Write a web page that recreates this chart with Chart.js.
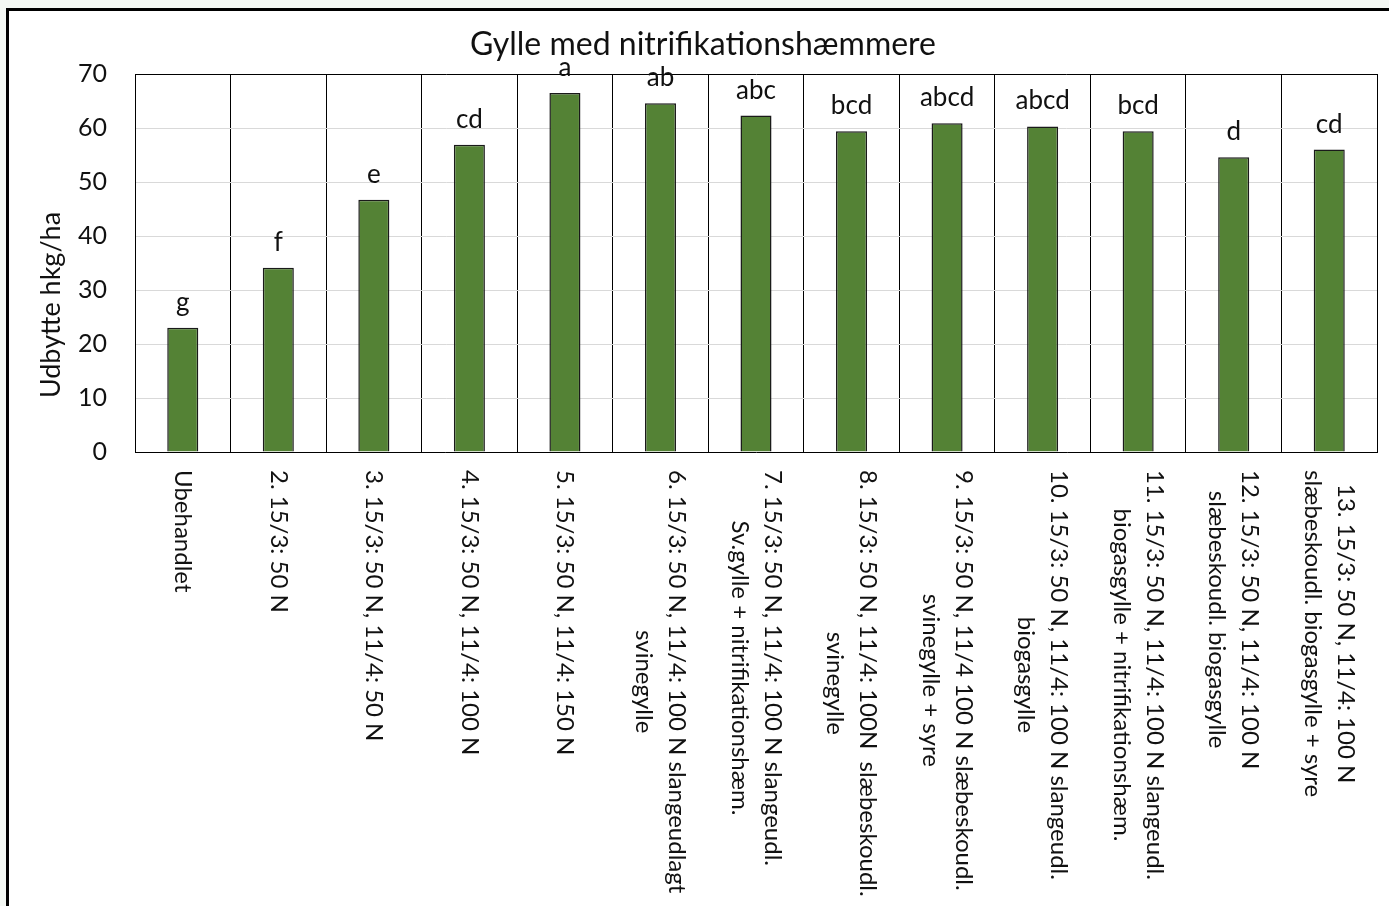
<!DOCTYPE html>
<html>
<head>
<meta charset="utf-8">
<script src="https://cdn.jsdelivr.net/npm/chart.js@4.4.1/dist/chart.umd.min.js"></script>
<style>
  html, body { margin: 0; padding: 0; background: #f4f8f4; }
  #frame {
    position: absolute; left: 6px; top: 8px;
    width: 1380px; height: 895px;
    border-top: 3px solid #000; border-left: 3px solid #000;
    background: #fff;
  }
  canvas { display: block; }
</style>
</head>
<body>
<div id="frame"><canvas id="c" width="1380" height="895"></canvas></div>
<script>
const chartTitle = "Gylle med nitrifikationshæmmere";
const yTitle = "Udbytte hkg/ha";

const categories = [
  ["Ubehandlet"],
  ["2. 15/3: 50 N"],
  ["3. 15/3: 50 N, 11/4: 50 N"],
  ["4. 15/3: 50 N, 11/4: 100 N"],
  ["5. 15/3: 50 N, 11/4: 150 N"],
  ["6. 15/3: 50 N, 11/4: 100 N slangeudlagt", "svinegylle"],
  ["7. 15/3: 50 N, 11/4: 100 N slangeudl.", "Sv.gylle + nitrifikationshæm."],
  ["8. 15/3: 50 N, 11/4: 100N  slæbeskoudl.", "svinegylle"],
  ["9. 15/3: 50 N, 11/4 100 N slæbeskoudl.", "svinegylle + syre"],
  ["10. 15/3: 50 N, 11/4: 100 N slangeudl.", "biogasgylle"],
  ["11. 15/3: 50 N, 11/4: 100 N slangeudl.", "biogasgylle + nitrifikationshæm."],
  ["12. 15/3: 50 N, 11/4: 100 N", "slæbeskoudl. biogasgylle"],
  ["13. 15/3: 50 N, 11/4: 100 N", "slæbeskoudl. biogasgylle + syre"]
];
const yields = [23.0, 34.1, 46.7, 56.9, 66.5, 64.6, 62.3, 59.4, 60.9, 60.3, 59.4, 54.6, 56.0];
const letters = ["g", "f", "e", "cd", "a", "ab", "abc", "bcd", "abcd", "abcd", "bcd", "d", "cd"];
const yMin = 0, yMax = 70, yStep = 10;

const textColor = "#111";

// letters over bars, rotated category labels and the y title
const annotate = {
  id: "annotate",
  afterDatasetsDraw(chart) {
    const ctx = chart.ctx;
    const meta = chart.getDatasetMeta(0);
    ctx.save();
    ctx.fillStyle = textColor;
    ctx.font = "26px Lato";
    ctx.textAlign = "center";
    ctx.textBaseline = "alphabetic";
    meta.data.forEach((bar, i) => ctx.fillText(letters[i], bar.x, bar.y - 17));
    ctx.restore();
  },
  afterDraw(chart) {
    const ctx = chart.ctx;
    const area = chart.chartArea;
    const xs = chart.scales.x;
    ctx.save();
    ctx.fillStyle = textColor;
    ctx.font = "24px Lato";
    categories.forEach((lines, i) => {
      const cx = xs.getPixelForValue(i);
      const maxW = Math.max(...lines.map(l => ctx.measureText(l).width));
      ctx.save();
      ctx.translate(cx, area.bottom + 18);
      ctx.rotate(Math.PI / 2);
      ctx.textAlign = "center";
      ctx.textBaseline = "middle";
      lines.forEach((l, k) => ctx.fillText(l, maxW / 2, (k - (lines.length - 1) / 2) * 33));
      ctx.restore();
    });
    ctx.font = "27px Lato";
    ctx.translate(42, (area.top + area.bottom) / 2 + 42);
    ctx.rotate(-Math.PI / 2);
    ctx.textAlign = "center";
    ctx.textBaseline = "middle";
    ctx.fillText(yTitle, 0, 0);
    ctx.restore();
  }
};

new Chart(document.getElementById("c"), {
  type: "bar",
  data: {
    labels: categories,
    datasets: [{
      data: yields,
      backgroundColor: "#548235",
      borderColor: "#1a1a1a",
      borderWidth: 1.5,
      borderSkipped: "start",
      barPercentage: 0.325,
      categoryPercentage: 1
    }]
  },
  options: {
    responsive: false,
    animation: false,
    devicePixelRatio: 1,
    layout: { padding: { left: 20, right: 12 } },
    plugins: {
      legend: { display: false },
      tooltip: { enabled: false },
      title: {
        display: true,
        text: chartTitle,
        color: textColor,
        font: { family: "Lato", size: 32, weight: "normal", lineHeight: 1.2 },
        padding: { top: 14, bottom: 10.6 }
      }
    },
    scales: {
      x: {
        ticks: { display: false },
        grid: { offset: true, color: "#000", lineWidth: 1, drawTicks: false },
        border: { color: "#000", width: 1 },
        afterFit(scale) { scale.height = 454; }
      },
      y: {
        min: yMin,
        max: yMax,
        ticks: {
          stepSize: yStep,
          padding: 28,
          color: textColor,
          font: { family: "Lato", size: 25 }
        },
        grid: {
          drawTicks: false,
          color: ctx => (ctx.tick && ctx.tick.value === yMax ? "#000" : "#d9d9d9"),
          lineWidth: 1
        },
        border: { color: "#000", width: 1 },
        afterFit(scale) { scale.width = 106; }
      }
    }
  },
  plugins: [annotate]
});
</script>
</body>
</html>
